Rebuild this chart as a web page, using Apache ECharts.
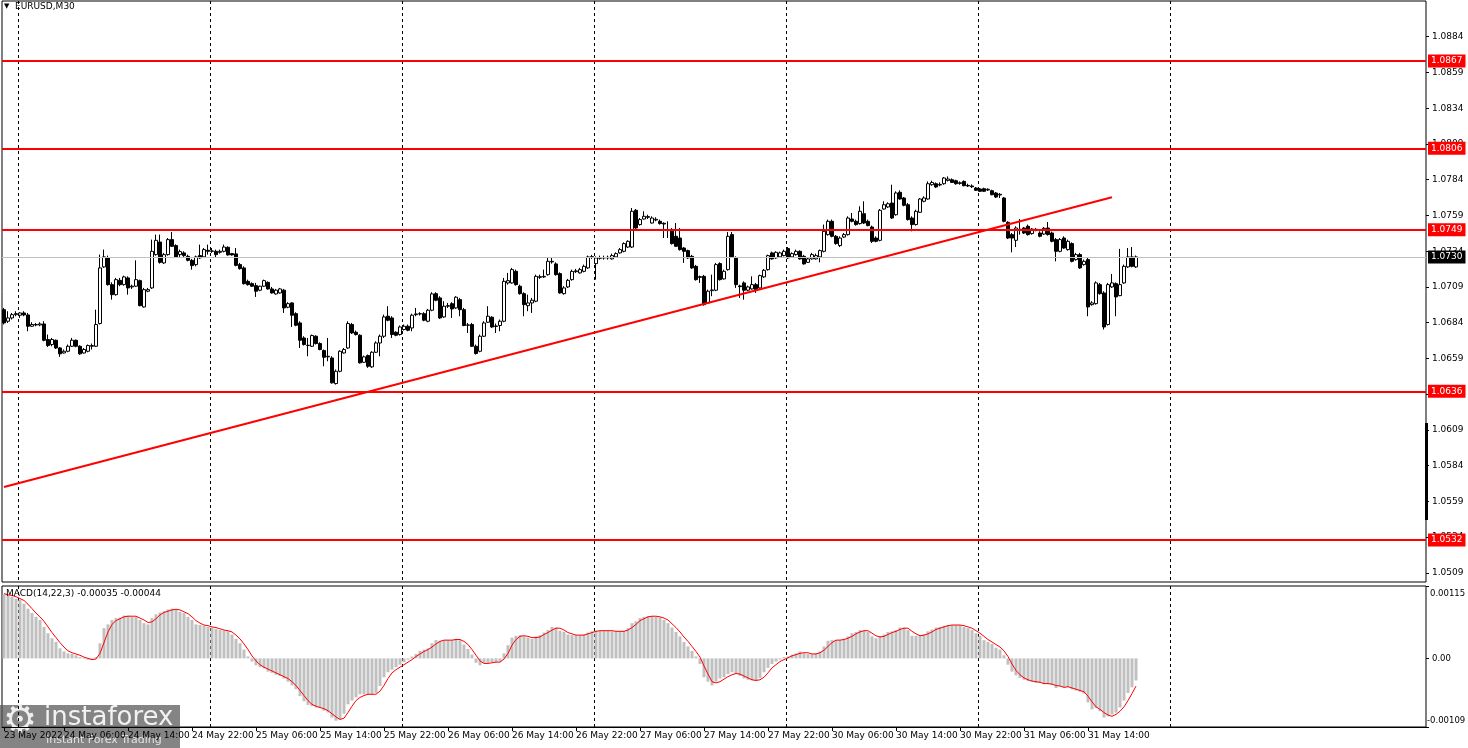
<!DOCTYPE html>
<html><head><meta charset="utf-8">
<script src="https://cdn.jsdelivr.net/npm/echarts@6/dist/echarts.min.js"></script>
<style>html,body{margin:0;padding:0;background:#fff}#c{width:1468px;height:748px}</style>
</head><body><div id="c"></div>
<script>
// ---------- DATA ----------
const symbolTitle = 'EURUSD,M30';
const macdTitle = 'MACD(14,22,3) -0.00035 -0.00044';
const firstDateLabel = '23 May 2022';
// [open, close, low, high]
const candles = [
[1.06931,1.06838,1.06827,1.06943],[1.06850,1.06873,1.06838,1.06920],[1.06873,1.06896,1.06862,1.06908],[1.06896,1.06903,1.06885,1.06920],[1.06892,1.06908,1.06873,1.06913],
[1.06908,1.06894,1.06885,1.06920],[1.06894,1.06815,1.06780,1.06908],[1.06815,1.06827,1.06810,1.06843],[1.06827,1.06824,1.06815,1.06838],[1.06824,1.06831,1.06815,1.06843],
[1.06831,1.06717,1.06710,1.06850],[1.06722,1.06680,1.06670,1.06757],[1.06687,1.06722,1.06675,1.06733],[1.06717,1.06663,1.06656,1.06722],[1.06663,1.06622,1.06601,1.06670],
[1.06628,1.06640,1.06624,1.06652],[1.06640,1.06675,1.06633,1.06687],[1.06675,1.06717,1.06670,1.06733],[1.06717,1.06675,1.06668,1.06722],[1.06675,1.06622,1.06615,1.06682],
[1.06628,1.06652,1.06624,1.06663],[1.06640,1.06680,1.06633,1.06687],[1.06675,1.06680,1.06652,1.06694],[1.06675,1.06827,1.06670,1.06931],[1.06834,1.07223,1.06827,1.07316],
[1.07230,1.07300,1.07223,1.07351],[1.07293,1.07106,1.07099,1.07309],[1.07106,1.07036,1.07001,1.07122],[1.07036,1.07141,1.07029,1.07153],[1.07136,1.07106,1.07095,1.07153],
[1.07106,1.07160,1.07099,1.07169],[1.07153,1.07083,1.07036,1.07164],[1.07090,1.07095,1.07076,1.07106],[1.07095,1.07141,1.07090,1.07276],[1.07134,1.06959,1.06955,1.07141],
[1.06950,1.07071,1.06945,1.07083],[1.07060,1.07071,1.07053,1.07083],[1.07083,1.07339,1.07076,1.07421],[1.07316,1.07416,1.07309,1.07456],[1.07404,1.07262,1.07253,1.07456],
[1.07258,1.07316,1.07251,1.07328],[1.07316,1.07421,1.07309,1.07432],[1.07421,1.07374,1.07369,1.07474],[1.07379,1.07300,1.07293,1.07388],[1.07316,1.07337,1.07300,1.07351],
[1.07328,1.07309,1.07300,1.07339],[1.07304,1.07276,1.07269,1.07316],[1.07276,1.07239,1.07211,1.07286],[1.07246,1.07300,1.07234,1.07309],[1.07309,1.07293,1.07286,1.07386],
[1.07300,1.07351,1.07293,1.07362],[1.07346,1.07339,1.07316,1.07386],[1.07339,1.07342,1.07328,1.07362],[1.07339,1.07316,1.07293,1.07351],[1.07332,1.07339,1.07323,1.07351],
[1.07339,1.07369,1.07332,1.07386],[1.07367,1.07314,1.07309,1.07374],[1.07323,1.07314,1.07309,1.07328],[1.07321,1.07241,1.07234,1.07362],[1.07246,1.07218,1.07211,1.07258],
[1.07223,1.07113,1.07106,1.07234],[1.07129,1.07106,1.07099,1.07141],[1.07113,1.07095,1.07090,1.07122],[1.07099,1.07060,1.07020,1.07118],[1.07067,1.07095,1.07060,1.07099],
[1.07095,1.07134,1.07090,1.07141],[1.07122,1.07076,1.07071,1.07129],[1.07076,1.07048,1.07043,1.07090],[1.07041,1.07067,1.07036,1.07076],[1.07048,1.07076,1.07043,1.07083],
[1.07067,1.06943,1.06908,1.07076],[1.06948,1.06973,1.06941,1.06983],[1.06978,1.06892,1.06810,1.06983],[1.06903,1.06822,1.06815,1.06913],[1.06838,1.06717,1.06663,1.06850],
[1.06733,1.06687,1.06680,1.06745],[1.06680,1.06682,1.06605,1.06733],[1.06675,1.06750,1.06670,1.06757],[1.06745,1.06694,1.06687,1.06752],[1.06694,1.06652,1.06647,1.06703],
[1.06645,1.06598,1.06535,1.06652],[1.06601,1.06605,1.06570,1.06733],[1.06593,1.06419,1.06414,1.06605],[1.06414,1.06500,1.06407,1.06512],[1.06500,1.06640,1.06493,1.06647],
[1.06628,1.06652,1.06624,1.06663],[1.06663,1.06834,1.06656,1.06850],[1.06827,1.06768,1.06761,1.06838],[1.06773,1.06757,1.06750,1.06785],[1.06752,1.06559,1.06554,1.06759],
[1.06563,1.06601,1.06559,1.06610],[1.06610,1.06535,1.06524,1.06617],[1.06531,1.06633,1.06524,1.06640],[1.06633,1.06698,1.06628,1.06710],[1.06698,1.06745,1.06605,1.06757],
[1.06745,1.06880,1.06733,1.06896],[1.06885,1.06857,1.06850,1.06955],[1.06873,1.06757,1.06733,1.06885],[1.06773,1.06752,1.06745,1.06780],[1.06757,1.06810,1.06750,1.06820],
[1.06792,1.06815,1.06785,1.06827],[1.06815,1.06787,1.06780,1.06827],[1.06803,1.06892,1.06780,1.06903],[1.06896,1.06901,1.06885,1.06943],[1.06901,1.06903,1.06890,1.06913],
[1.06903,1.06857,1.06850,1.06913],[1.06850,1.06927,1.06843,1.06936],[1.06927,1.07041,1.06920,1.07053],[1.07043,1.06997,1.06990,1.07053],[1.07013,1.06873,1.06866,1.07025],
[1.06880,1.06955,1.06873,1.06990],[1.06955,1.06959,1.06943,1.06978],[1.06973,1.06936,1.06873,1.06983],[1.06943,1.07018,1.06936,1.07025],[1.07001,1.06931,1.06885,1.07013],
[1.06931,1.06820,1.06815,1.06943],[1.06822,1.06824,1.06768,1.06838],[1.06827,1.06675,1.06670,1.06838],[1.06675,1.06624,1.06617,1.06687],[1.06640,1.06745,1.06633,1.06757],
[1.06745,1.06838,1.06740,1.06850],[1.06843,1.06885,1.06838,1.06955],[1.06878,1.06810,1.06803,1.06885],[1.06813,1.06817,1.06768,1.06834],[1.06820,1.06850,1.06780,1.06862],
[1.06850,1.07129,1.06843,1.07153],[1.07118,1.07134,1.07106,1.07188],[1.07118,1.07211,1.07113,1.07223],[1.07199,1.07106,1.07099,1.07211],[1.07095,1.07043,1.07036,1.07106],
[1.07043,1.06966,1.06885,1.07053],[1.06959,1.06978,1.06920,1.07036],[1.06978,1.06997,1.06908,1.07013],[1.06990,1.07164,1.06983,1.07176],[1.07157,1.07162,1.07146,1.07176],
[1.07160,1.07164,1.07153,1.07211],[1.07176,1.07269,1.07169,1.07293],[1.07265,1.07269,1.07253,1.07293],[1.07251,1.07176,1.07169,1.07262],[1.07183,1.07048,1.07043,1.07192],
[1.07043,1.07083,1.07036,1.07095],[1.07090,1.07136,1.07083,1.07146],[1.07141,1.07199,1.07134,1.07211],[1.07197,1.07202,1.07188,1.07216],[1.07188,1.07211,1.07183,1.07223],
[1.07199,1.07234,1.07192,1.07246],[1.07223,1.07300,1.07216,1.07309],[1.07297,1.07302,1.07286,1.07314],[1.07253,1.07293,1.07141,1.07304],[1.07290,1.07295,1.07281,1.07309],
[1.07293,1.07295,1.07281,1.07309],[1.07293,1.07297,1.07281,1.07309],[1.07286,1.07309,1.07281,1.07323],[1.07300,1.07323,1.07293,1.07332],[1.07328,1.07351,1.07323,1.07362],
[1.07339,1.07393,1.07332,1.07402],[1.07369,1.07409,1.07362,1.07416],[1.07369,1.07619,1.07362,1.07642],[1.07626,1.07502,1.07495,1.07635],[1.07526,1.07561,1.07519,1.07572],
[1.07565,1.07584,1.07561,1.07619],[1.07577,1.07582,1.07565,1.07595],[1.07537,1.07572,1.07533,1.07584],[1.07558,1.07563,1.07549,1.07577],[1.07549,1.07533,1.07526,1.07561],
[1.07535,1.07530,1.07432,1.07542],[1.07488,1.07484,1.07432,1.07549],[1.07491,1.07393,1.07386,1.07502],[1.07444,1.07374,1.07369,1.07537],[1.07432,1.07351,1.07344,1.07502],
[1.07362,1.07339,1.07258,1.07369],[1.07344,1.07293,1.07286,1.07351],[1.07304,1.07223,1.07216,1.07314],[1.07234,1.07141,1.07134,1.07244],[1.07162,1.07157,1.07118,1.07169],
[1.07164,1.06966,1.06959,1.07174],[1.06978,1.07060,1.06971,1.07071],[1.07064,1.07069,1.07025,1.07176],[1.07067,1.07246,1.07060,1.07258],[1.07253,1.07141,1.07134,1.07262],
[1.07146,1.07199,1.07141,1.07211],[1.07211,1.07444,1.07204,1.07474],[1.07456,1.07300,1.07293,1.07474],[1.07293,1.07106,1.07083,1.07304],[1.07097,1.07092,1.07013,1.07106],
[1.07118,1.07067,1.07001,1.07129],[1.07067,1.07090,1.07060,1.07099],[1.07076,1.07106,1.07071,1.07164],[1.07106,1.07071,1.07048,1.07118],[1.07083,1.07169,1.07076,1.07176],
[1.07160,1.07206,1.07153,1.07216],[1.07211,1.07309,1.07204,1.07316],[1.07328,1.07286,1.07281,1.07337],[1.07293,1.07332,1.07286,1.07339],[1.07300,1.07328,1.07293,1.07337],
[1.07309,1.07339,1.07304,1.07351],[1.07358,1.07293,1.07286,1.07369],[1.07300,1.07323,1.07293,1.07332],[1.07316,1.07339,1.07309,1.07351],[1.07339,1.07286,1.07281,1.07346],
[1.07304,1.07251,1.07246,1.07314],[1.07262,1.07286,1.07258,1.07295],[1.07286,1.07316,1.07281,1.07328],[1.07286,1.07309,1.07281,1.07323],[1.07300,1.07344,1.07262,1.07351],
[1.07339,1.07479,1.07332,1.07526],[1.07456,1.07549,1.07449,1.07561],[1.07549,1.07444,1.07437,1.07561],[1.07444,1.07393,1.07386,1.07453],[1.07379,1.07432,1.07369,1.07444],
[1.07439,1.07456,1.07432,1.07467],[1.07456,1.07572,1.07449,1.07584],[1.07565,1.07549,1.07542,1.07607],[1.07549,1.07526,1.07519,1.07561],[1.07533,1.07619,1.07526,1.07654],
[1.07602,1.07537,1.07530,1.07689],[1.07549,1.07519,1.07514,1.07561],[1.07509,1.07409,1.07397,1.07519],[1.07432,1.07409,1.07402,1.07444],[1.07416,1.07626,1.07409,1.07635],
[1.07635,1.07665,1.07630,1.07689],[1.07649,1.07672,1.07642,1.07682],[1.07677,1.07572,1.07565,1.07805],[1.07595,1.07747,1.07588,1.07759],[1.07752,1.07705,1.07700,1.07766],
[1.07712,1.07661,1.07654,1.07719],[1.07665,1.07561,1.07554,1.07677],[1.07572,1.07526,1.07479,1.07584],[1.07526,1.07619,1.07519,1.07630],[1.07612,1.07705,1.07607,1.07712],
[1.07689,1.07712,1.07682,1.07724],[1.07705,1.07812,1.07700,1.07828],[1.07805,1.07821,1.07798,1.07833],[1.07812,1.07789,1.07782,1.07821],[1.07803,1.07807,1.07794,1.07821],
[1.07812,1.07852,1.07805,1.07859],[1.07835,1.07845,1.07828,1.07863],[1.07840,1.07821,1.07817,1.07849],[1.07833,1.07812,1.07805,1.07840],[1.07814,1.07819,1.07805,1.07828],
[1.07828,1.07798,1.07794,1.07835],[1.07800,1.07796,1.07789,1.07812],[1.07796,1.07791,1.07782,1.07807],[1.07782,1.07766,1.07761,1.07789],[1.07775,1.07759,1.07754,1.07782],
[1.07777,1.07759,1.07754,1.07784],[1.07768,1.07773,1.07761,1.07780],[1.07763,1.07735,1.07731,1.07770],[1.07747,1.07719,1.07712,1.07754],[1.07733,1.07738,1.07712,1.07747],
[1.07712,1.07549,1.07542,1.07719],[1.07542,1.07432,1.07425,1.07549],[1.07456,1.07432,1.07332,1.07467],[1.07416,1.07502,1.07369,1.07514],[1.07488,1.07493,1.07456,1.07565],
[1.07502,1.07467,1.07460,1.07509],[1.07514,1.07456,1.07449,1.07526],[1.07463,1.07495,1.07456,1.07502],[1.07488,1.07493,1.07479,1.07502],[1.07467,1.07444,1.07437,1.07479],
[1.07460,1.07500,1.07453,1.07509],[1.07502,1.07456,1.07449,1.07544],[1.07467,1.07409,1.07402,1.07477],[1.07421,1.07339,1.07269,1.07432],[1.07339,1.07421,1.07332,1.07432],
[1.07432,1.07362,1.07356,1.07444],[1.07351,1.07409,1.07344,1.07421],[1.07393,1.07269,1.07262,1.07402],[1.07281,1.07316,1.07274,1.07328],[1.07316,1.07223,1.07216,1.07328],
[1.07246,1.07269,1.07239,1.07281],[1.07281,1.06950,1.06885,1.07293],[1.06966,1.06978,1.06959,1.06990],[1.06973,1.07118,1.06966,1.07129],[1.07106,1.07043,1.07036,1.07118],
[1.07048,1.06810,1.06792,1.07060],[1.06827,1.07106,1.06820,1.07118],[1.07090,1.07118,1.07083,1.07181],[1.07113,1.07020,1.06885,1.07122],[1.07029,1.07106,1.07025,1.07356],
[1.07118,1.07234,1.07111,1.07246],[1.07230,1.07300,1.07223,1.07362],[1.07300,1.07234,1.07227,1.07369],[1.07230,1.07300,1.07223,1.07310]
];
const macd = [
102e-5,100e-5,98e-5,95e-5,93e-5,87e-5,79e-5,72e-5,66e-5,61e-5,
50e-5,40e-5,32e-5,26e-5,16e-5,11e-5,8e-5,7e-5,5e-5,2e-5,
-1e-5,-2e-5,-2e-5,2e-5,24e-5,48e-5,54e-5,61e-5,64e-5,65e-5,
68e-5,68e-5,66e-5,66e-5,61e-5,56e-5,54e-5,64e-5,70e-5,73e-5,
75e-5,78e-5,79e-5,77e-5,74e-5,72e-5,66e-5,61e-5,54e-5,53e-5,
52e-5,50e-5,49e-5,47e-5,45e-5,44e-5,43e-5,38e-5,31e-5,24e-5,
14e-5,3e-5,-5e-5,-11e-5,-14e-5,-16e-5,-21e-5,-23e-5,-26e-5,-28e-5,
-32e-5,-37e-5,-43e-5,-49e-5,-60e-5,-68e-5,-74e-5,-76e-5,-78e-5,-79e-5,
-83e-5,-86e-5,-94e-5,-99e-5,-97e-5,-88e-5,-73e-5,-67e-5,-62e-5,-57e-5,
-57e-5,-58e-5,-57e-5,-55e-5,-44e-5,-30e-5,-22e-5,-18e-5,-14e-5,-10e-5,
-6e-5,-2e-5,3e-5,7e-5,12e-5,14e-5,16e-5,24e-5,29e-5,28e-5,
29e-5,29e-5,29e-5,31e-5,29e-5,22e-5,15e-5,6e-5,-7e-5,-11e-5,
-7e-5,-7e-5,-6e-5,-6e-5,-5e-5,8e-5,21e-5,33e-5,36e-5,37e-5,
35e-5,33e-5,31e-5,35e-5,37e-5,41e-5,45e-5,50e-5,49e-5,44e-5,
42e-5,38e-5,37e-5,37e-5,37e-5,38e-5,41e-5,43e-5,44e-5,44e-5,
44e-5,44e-5,43e-5,43e-5,43e-5,44e-5,48e-5,56e-5,59e-5,64e-5,
66e-5,67e-5,67e-5,66e-5,65e-5,61e-5,56e-5,49e-5,42e-5,35e-5,
26e-5,19e-5,12e-5,3e-5,-9e-5,-30e-5,-37e-5,-43e-5,-37e-5,-32e-5,
-30e-5,-25e-5,-22e-5,-25e-5,-28e-5,-32e-5,-34e-5,-35e-5,-36e-5,-31e-5,
-22e-5,-15e-5,-9e-5,-5e-5,-2e-5,2e-5,3e-5,6e-5,8e-5,11e-5,
8e-5,7e-5,7e-5,8e-5,11e-5,19e-5,28e-5,29e-5,29e-5,29e-5,
31e-5,35e-5,40e-5,42e-5,45e-5,44e-5,42e-5,35e-5,32e-5,35e-5,
38e-5,42e-5,43e-5,45e-5,49e-5,49e-5,45e-5,36e-5,36e-5,36e-5,
38e-5,43e-5,46e-5,49e-5,50e-5,52e-5,53e-5,53e-5,53e-5,53e-5,
50e-5,48e-5,45e-5,40e-5,36e-5,29e-5,26e-5,23e-5,17e-5,14e-5,
5e-5,-10e-5,-21e-5,-27e-5,-31e-5,-34e-5,-36e-5,-37e-5,-39e-5,-39e-5,
-41e-5,-41e-5,-42e-5,-47e-5,-44e-5,-46e-5,-46e-5,-49e-5,-51e-5,-53e-5,
-56e-5,-70e-5,-81e-5,-79e-5,-84e-5,-94e-5,-92e-5,-89e-5,-86e-5,-78e-5,
-67e-5,-55e-5,-46e-5,-35e-5
];
const signal = [
103e-5,101e-5,100e-5,98e-5,95e-5,92e-5,86e-5,79e-5,72e-5,66e-5,
59e-5,50e-5,41e-5,33e-5,25e-5,18e-5,12e-5,9e-5,7e-5,5e-5,
2e-5,0,-2e-5,-1e-5,8e-5,25e-5,42e-5,54e-5,60e-5,63e-5,
66e-5,67e-5,67e-5,67e-5,64e-5,61e-5,57e-5,58e-5,63e-5,69e-5,
73e-5,75e-5,77e-5,78e-5,77e-5,74e-5,71e-5,66e-5,60e-5,56e-5,
53e-5,52e-5,50e-5,49e-5,47e-5,45e-5,44e-5,42e-5,37e-5,31e-5,
23e-5,14e-5,4e-5,-4e-5,-10e-5,-14e-5,-17e-5,-20e-5,-23e-5,-26e-5,
-29e-5,-32e-5,-37e-5,-43e-5,-51e-5,-59e-5,-67e-5,-73e-5,-76e-5,-78e-5,
-80e-5,-83e-5,-88e-5,-93e-5,-97e-5,-95e-5,-86e-5,-76e-5,-67e-5,-62e-5,
-59e-5,-57e-5,-57e-5,-57e-5,-52e-5,-43e-5,-32e-5,-23e-5,-18e-5,-14e-5,
-10e-5,-6e-5,-2e-5,3e-5,7e-5,11e-5,14e-5,18e-5,23e-5,27e-5,
29e-5,29e-5,29e-5,30e-5,30e-5,27e-5,22e-5,14e-5,5e-5,-4e-5,
-8e-5,-8e-5,-7e-5,-6e-5,-6e-5,-1e-5,8e-5,21e-5,30e-5,35e-5,
36e-5,35e-5,33e-5,33e-5,34e-5,38e-5,41e-5,45e-5,48e-5,48e-5,
45e-5,41e-5,39e-5,37e-5,37e-5,37e-5,39e-5,41e-5,43e-5,44e-5,
44e-5,44e-5,44e-5,43e-5,43e-5,43e-5,45e-5,49e-5,54e-5,60e-5,
63e-5,66e-5,67e-5,67e-5,66e-5,64e-5,61e-5,55e-5,49e-5,42e-5,
34e-5,27e-5,19e-5,11e-5,2e-5,-12e-5,-25e-5,-37e-5,-39e-5,-37e-5,
-33e-5,-29e-5,-26e-5,-24e-5,-25e-5,-28e-5,-31e-5,-34e-5,-35e-5,-34e-5,
-30e-5,-23e-5,-15e-5,-10e-5,-5e-5,-2e-5,1e-5,4e-5,6e-5,8e-5,
9e-5,9e-5,7e-5,7e-5,9e-5,13e-5,19e-5,25e-5,29e-5,29e-5,
30e-5,32e-5,35e-5,39e-5,42e-5,44e-5,44e-5,40e-5,36e-5,34e-5,
35e-5,38e-5,41e-5,43e-5,46e-5,48e-5,48e-5,43e-5,39e-5,36e-5,
37e-5,39e-5,42e-5,46e-5,48e-5,50e-5,52e-5,53e-5,53e-5,53e-5,
52e-5,50e-5,48e-5,44e-5,40e-5,35e-5,30e-5,26e-5,22e-5,18e-5,
12e-5,3e-5,-9e-5,-19e-5,-26e-5,-31e-5,-34e-5,-36e-5,-37e-5,-38e-5,
-40e-5,-40e-5,-41e-5,-43e-5,-44e-5,-46e-5,-45e-5,-47e-5,-49e-5,-51e-5,
-53e-5,-60e-5,-69e-5,-77e-5,-81e-5,-86e-5,-90e-5,-92e-5,-89e-5,-84e-5,
-77e-5,-67e-5,-56e-5,-44e-5
];
const levels = [1.0867, 1.0806, 1.0749, 1.0636, 1.0532];
const bidPrice = 1.0730;
// trend line: [bar index, price] at both ends
const trendLine = [[0, 1.05691], [277, 1.07717]];
const priceTicks = [1.0884,1.0859,1.0834,1.0809,1.0784,1.0759,1.0734,1.0709,1.0684,1.0659,1.0634,1.0609,1.0584,1.0559,1.0534,1.0509];
const macdTicks = [0.00115, 0, -0.00109];
const timeLabels = ['23 May 22:30','24 May 06:00','24 May 14:00','24 May 22:00','25 May 06:00','25 May 14:00','25 May 22:00',
  '26 May 06:00','26 May 14:00','26 May 22:00','27 May 06:00','27 May 14:00','27 May 22:00','30 May 06:00','30 May 14:00',
  '30 May 22:00','31 May 06:00','31 May 14:00'];
const dayLines = ['24 May 00:30','25 May 00:30','26 May 00:30','27 May 00:30','30 May 00:30','31 May 00:30','1 Jun 00:30'];

// ---------- categories (M30 bars, weekends skipped, plus empty future slots) ----------
const SLOTS = 356;
const MONTHS = ['Jan','Feb','Mar','Apr','May','Jun','Jul','Aug','Sep','Oct','Nov','Dec'];
const categories = [];
for (let t = Date.UTC(2022, 4, 23, 22, 30); categories.length < SLOTS; t += 1800000) {
  const d = new Date(t), wd = d.getUTCDay();
  if (wd === 0 || wd === 6) continue;
  const hh = String(d.getUTCHours()).padStart(2, '0'), mm = String(d.getUTCMinutes()).padStart(2, '0');
  categories.push(d.getUTCDate() + ' ' + MONTHS[d.getUTCMonth()] + ' ' + hh + ':' + mm);
}

// ---------- CHART ----------
const FONT = 'DejaVu Sans';
const chart = echarts.init(document.getElementById('c'));
const isLabel = (i, v) => timeLabels.indexOf(v) >= 0;
const isDayLine = (i, v) => dayLines.indexOf(v) >= 0;
const dashed = { show: true, interval: isDayLine, showMaxLine: false, lineStyle: { color: '#000', width: 1, type: [3, 3] } };
const rs = { fontFamily: FONT, fontSize: 8.5, color: '#000' };

chart.setOption({
  animation: false,
  backgroundColor: '#fff',
  grid: [
    { left: 2, right: 42, top: 1, height: 581, show: true, borderColor: '#000', borderWidth: 1, containLabel: false, outerBoundsMode: 'none' },
    { left: 2, right: 42, top: 586, height: 141, show: true, borderColor: '#000', borderWidth: 1, containLabel: false, outerBoundsMode: 'none' }
  ],
  xAxis: [
    { type: 'category', gridIndex: 0, data: categories, boundaryGap: true,
      axisLine: { show: false }, axisTick: { show: false }, axisLabel: { show: false }, splitLine: dashed },
    { type: 'category', gridIndex: 1, data: categories, boundaryGap: true,
      axisLine: { show: true, onZero: false, lineStyle: { color: '#000' } },
      axisTick: { show: true, alignWithLabel: true, interval: isLabel, length: 4, lineStyle: { color: '#000' } },
      axisLabel: { show: true, interval: isLabel, align: 'left', margin: 4, color: '#000', fontFamily: FONT, fontSize: 9,
        formatter: v => v === categories[0] ? firstDateLabel : v },
      splitLine: dashed }
  ],
  yAxis: [
    { type: 'value', gridIndex: 0, position: 'right', min: 1.05026, max: 1.09090, scale: true,
      axisLine: { show: false }, splitLine: { show: false },
      axisTick: { show: true, customValues: priceTicks, length: 3, lineStyle: { color: '#000' } },
      axisLabel: { customValues: priceTicks, color: '#000', fontFamily: FONT, fontSize: 9, margin: 6,
        formatter: v => v.toFixed(4) } },
    { type: 'value', gridIndex: 1, position: 'right', min: -0.00109, max: 0.00115,
      axisLine: { show: false }, splitLine: { show: false },
      axisTick: { show: true, customValues: macdTicks, length: 3, lineStyle: { color: '#000' } },
      axisLabel: { customValues: macdTicks, color: '#000', fontFamily: FONT, fontSize: 8.5, margin: 1,
        formatter: v => v > 0 ? '{t|' + v.toFixed(5) + '}' : (v < 0 ? '{b|' + v.toFixed(5) + '}' : '{z|0.00}'),
        rich: { t: Object.assign({ padding: [15, 0, 0, 3] }, rs),
                z: Object.assign({ padding: [0, 0, 0, 5] }, rs),
                b: Object.assign({ padding: [0, 0, 13, 0] }, rs) } } }
  ],
  series: [
    { type: 'candlestick', xAxisIndex: 0, yAxisIndex: 0, data: candles, barWidth: 3,
      itemStyle: { color: '#ffffff', color0: '#000000', borderColor: '#000000', borderColor0: '#000000', borderWidth: 1 },
      markLine: {
        silent: true, symbol: ['none', 'none'], animation: false, precision: 5,
        label: { show: true, position: 'end', distance: 2, color: '#fff', backgroundColor: '#ff0000',
          padding: [2, 3, 2, 3], fontFamily: FONT, fontSize: 9, formatter: p => Number(p.value).toFixed(4) },
        lineStyle: { color: '#ff0000', width: 2, type: 'solid' },
        data: [
          { yAxis: bidPrice, lineStyle: { color: '#c0c0c0', width: 1, type: 'solid' },
            label: { backgroundColor: '#000000', color: '#fff' } },
          ...levels.map(v => ({ yAxis: v })),
          [ { coord: [trendLine[0][0], trendLine[0][1]], label: { show: false } },
            { coord: [trendLine[1][0], trendLine[1][1]], label: { show: false } } ]
        ]
      } },
    { type: 'bar', xAxisIndex: 1, yAxisIndex: 1, data: macd, barWidth: 3,
      itemStyle: { color: '#c0c0c0' }, silent: true },
    { type: 'line', xAxisIndex: 1, yAxisIndex: 1, data: signal, symbol: 'none',
      lineStyle: { color: '#ff0000', width: 1 }, silent: true, z: 3 }
  ],
  graphic: [
    { type: 'text', left: 4, top: 3, z: 50, style: { text: '▼', fontSize: 7, fill: '#000', fontFamily: FONT } },
    { type: 'text', left: 15, top: 2, z: 50, style: { text: symbolTitle, fontSize: 9, fill: '#000', fontFamily: FONT } },
    { type: 'text', left: 6, top: 589, z: 50, style: { text: macdTitle, fontSize: 9, fill: '#000', fontFamily: FONT } },
    { type: 'rect', z: 40, shape: { x: 1425, y: 423, width: 3, height: 97 }, style: { fill: '#000' } },
    { type: 'group', left: 0, top: 703, z: 100, children: [
      { type: 'rect', shape: { x: 0, y: 0, width: 180, height: 45 }, style: { fill: 'rgba(85,85,85,0.72)' } },
      { type: 'text', x: 3, y: -2, style: { text: '⚙', fontSize: 38, fill: '#eeeeee', fontFamily: FONT } },
      { type: 'text', x: 44, y: 0, style: { text: 'instaforex', fontSize: 26, fill: '#f2f2f2', fontFamily: FONT } },
      { type: 'text', x: 46, y: 30, style: { text: 'Instant Forex Trading', fontSize: 11, fill: '#e0e0e0', fontFamily: FONT } }
    ] }
  ]
});
</script>
</body></html>
